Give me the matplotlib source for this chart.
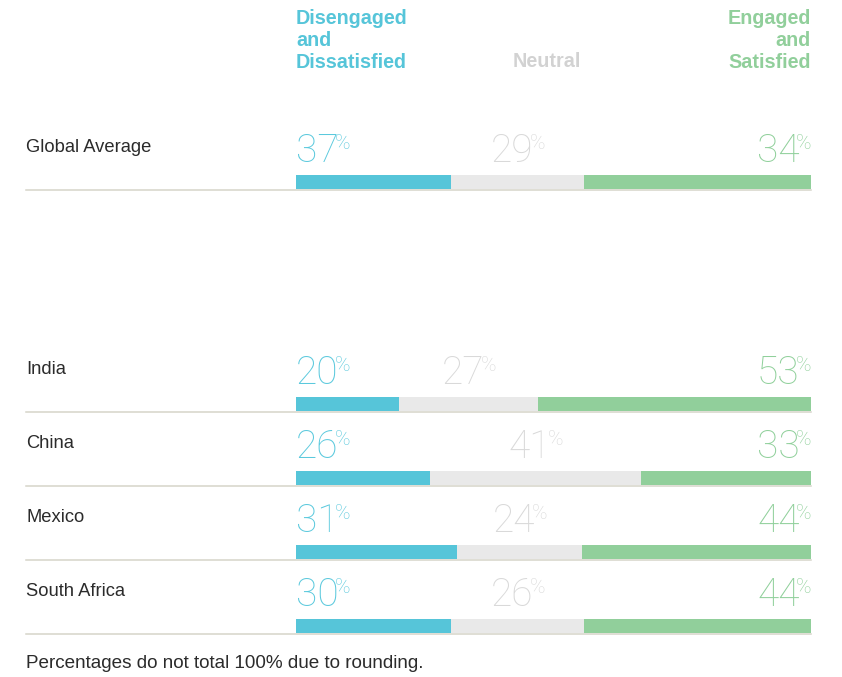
import matplotlib
matplotlib.use('Agg')
import matplotlib.pyplot as plt
import matplotlib.transforms as mtransforms
import numpy as np

# rows as printed in the chart
regions = ["Global Average", "India", "China", "Mexico", "South Africa"]

# percentages as printed above each bar
pct_disengaged = [37, 20, 26, 31, 30]
pct_neutral = [29, 27, 41, 24, 26]
pct_engaged = [34, 53, 33, 44, 44]

# segment lengths as drawn in the picture (global bar is drawn 30/26/44)
bar_disengaged = [30, 20, 26, 31, 30]
bar_neutral = [26, 27, 41, 24, 26]
bar_engaged = [44, 53, 33, 44, 44]

headers = ["Disengaged\nand\nDissatisfied", "Neutral", "Engaged\nand\nSatisfied"]
footnote = "Percentages do not total 100% due to rounding."

C_DIS = "#56c5d9"
C_NEU = "#e9e9e9"
C_ENG = "#91cf9b"
T_DIS = "#5bc9dd"
T_NEU = "#d9d9d9"
T_ENG = "#90d09b"
H_NEU = "#d2d2d2"
LINE_C = "#d6d4c9"
TXT = "#2b2b2b"

W, H, DPI = 842, 677, 100
fig = plt.figure(figsize=(W / DPI, H / DPI), dpi=DPI)
fig.patch.set_facecolor("white")

# axes spans the bar area horizontally, full height vertically
x0, x1 = 296, 811
ax = fig.add_axes([x0 / W, 0, (x1 - x0) / W, 1])
ax.set_axis_off()

unit = 74.0       # px per row step
y_first = 182.0   # px from top of first bar centre
ax.set_xlim(0, 100)
ax.set_ylim((H - y_first) / unit, -y_first / unit)

# global average sits apart from the country rows
row_y = np.array([0, 3, 4, 5, 6], dtype=float)
bar_h = 14 / unit

dis = np.array(bar_disengaged, float)
neu = np.array(bar_neutral, float)
eng = np.array(bar_engaged, float)
tot = dis + neu + eng
dis_n, neu_n, eng_n = dis / tot * 100, neu / tot * 100, eng / tot * 100

for y in row_y:
    ax.axhline(y + bar_h / 2 + 0.01, xmin=(26 - x0) / (x1 - x0), xmax=1,
               color=LINE_C, lw=1.1, clip_on=False, zorder=1)

ax.barh(row_y, dis_n, height=bar_h, color=C_DIS, zorder=2)
ax.barh(row_y, neu_n, left=dis_n, height=bar_h, color=C_NEU, zorder=2)
ax.barh(row_y, eng_n, left=dis_n + neu_n, height=bar_h, color=C_ENG, zorder=2)

num_font = dict(family=["Roboto", "DejaVu Sans"], fontweight="light", fontsize=28)
pct_font = dict(family=["Roboto", "DejaVu Sans"], fontweight="light", fontsize=15)
gap = -2.5  # points between number and % sign

fig.canvas.draw()
r = fig.canvas.get_renderer()
probe = ax.text(0, 0, "%", **pct_font)
pct_w = probe.get_window_extent(r).width * 72 / DPI + gap
probe.remove()


def big_label(x, y, value, color, dx_pts, ha):
    tr = ax.transData + mtransforms.ScaledTranslation(dx_pts / 72, 0, fig.dpi_scale_trans)
    t = ax.text(x, y, str(value), transform=tr, ha=ha, va="baseline",
                color=color, clip_on=False, **num_font)
    ax.annotate("%", xy=(1, 1), xycoords=t, xytext=(gap, -1), textcoords="offset points",
                ha="left", va="top", color=color, **pct_font)


label_base = 20 / unit
for i, y in enumerate(row_y):
    yb = y - label_base
    big_label(0, yb, pct_disengaged[i], T_DIS, 0, "left")
    big_label(dis_n[i] + neu_n[i] / 2, yb, pct_neutral[i], T_NEU, pct_w / 2 + 7, "right")
    big_label(100, yb, pct_engaged[i], T_ENG, -pct_w + 0.5, "right")
    ax.text((26 - x0) / (x1 - x0) * 100, y - 0.47, regions[i], ha="left", va="center",
            fontsize=13.2, color=TXT, family="Liberation Sans", clip_on=False)

head_font = dict(family="Liberation Sans", fontweight="bold", fontsize=14.2, linespacing=1.2)
ht = 1 - 9 / H
fig.text(x0 / W, ht, headers[0], ha="left", va="top", color=C_DIS, **head_font)
fig.text(547 / W, 1 - 67 / H, headers[1], ha="center", va="baseline", color=H_NEU, **head_font)
fig.text(x1 / W, ht, headers[2], ha="right", va="top", multialignment="right",
         color=C_ENG, **head_font)

fig.text(26 / W, 1 - 663 / H, footnote, ha="left", va="center", fontsize=13.6,
         color=TXT, family="Liberation Sans")

fig.savefig("out.png", dpi=DPI)
plt.close(fig)
